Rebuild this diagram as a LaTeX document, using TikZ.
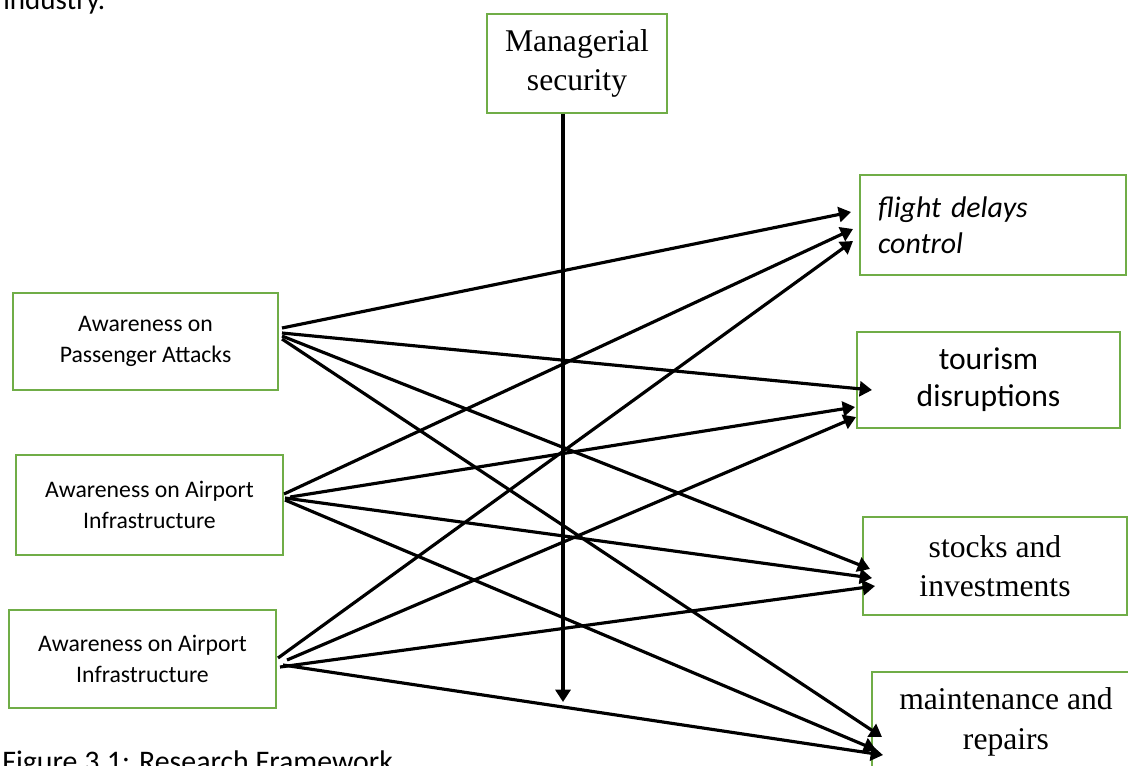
\documentclass[tikz,border=0pt]{standalone}
\usepackage{fontspec}
\setmainfont{Liberation Serif}
\newfontfamily\calibri{Carlito}
\usetikzlibrary{arrows.meta}
\definecolor{boxgreen}{RGB}{112,173,71}

\begin{document}
\begin{tikzpicture}[x=0.02cm,y=-0.02cm,
    box/.style={draw=boxgreen, line width=1.1pt, fill=white, inner sep=0pt, align=center},
    serifbox/.style={box, font=\fontsize{18}{22.5}\selectfont},
    sansbox/.style={box, font=\calibri\fontsize{18}{21}\selectfont},
    smallbox/.style={box, font=\calibri\fontsize{13.5}{17.5}\selectfont},
    pagetext/.style={anchor=base west, inner sep=0pt, font=\calibri\fontsize{17}{21}\selectfont},
    link/.style={line width=1.8pt, -{Triangle[length=7pt,width=8.5pt]}}]
    \useasboundingbox (0,0) rectangle (1128,765);
    \clip (0,0) rectangle (1128,765);

    % text of the page round the figure
    \node[pagetext, font=\calibri\fontsize{16.5}{21}\selectfont] (prev) at (3,9) {industry.};
    \node[pagetext] (cap) at (2,771) {Figure 3.1: Research Framework};

    % boxes
    \node[serifbox, minimum width=3.6cm, minimum height=1.98cm] (ms) at (577,63.5) {Managerial\\security};
    \node[sansbox, font=\calibri\itshape\fontsize{17}{20.5}\selectfont, align=left, text width=4.6cm, inner xsep=0.36cm, minimum height=2cm] (fdc) at (993,225) {flight delays\\control};
    \node[sansbox, minimum width=5.26cm, minimum height=1.92cm] (td) at (988.5,380) {tourism\\disruptions};
    \node[serifbox, minimum width=5.28cm, minimum height=1.96cm] (si) at (995,566) {stocks and\\investments};
    \node[serifbox, minimum width=5.36cm, minimum height=2cm] (mr) at (1006,722) {maintenance and\\repairs};
    \node[smallbox, minimum width=5.3cm, minimum height=1.94cm] (pa) at (145.5,341.5) {Awareness on\\Passenger Attacks};
    \node[smallbox, minimum width=5.34cm, minimum height=2cm] (aia) at (149.5,505) {Awareness on Airport\\Infrastructure};
    \node[smallbox, minimum width=5.34cm, minimum height=1.96cm] (aib) at (142.5,659) {Awareness on Airport\\Infrastructure};

    % ends of the arrows
    \coordinate (pa1) at (282,328);
    \coordinate (pa2) at (282,333);
    \coordinate (pa3) at (282,336);
    \coordinate (pa4) at (282,339);
    \coordinate (aia1) at (284,494);
    \coordinate (aia2) at (290,497);
    \coordinate (aia3) at (285,498);
    \coordinate (aia4) at (285,500);
    \coordinate (aib1) at (278,658);
    \coordinate (aib2) at (287,660);
    \coordinate (aib3) at (280,667);
    \coordinate (aib4) at (283,665);

    \coordinate (fdc1) at (851,212);
    \coordinate (fdc2) at (853,229);
    \coordinate (fdc3) at (853,241);
    \coordinate (td1) at (872,390);
    \coordinate (td2) at (855,407);
    \coordinate (td3) at (856,417);
    \coordinate (si1) at (870,569);
    \coordinate (si2) at (872,578);
    \coordinate (si3) at (875,586);
    \coordinate (mr1) at (882,737);
    \coordinate (mr2) at (876,750);
    \coordinate (mr3) at (883,755);
    \coordinate (msend) at (563,702);

    \draw[link] (msend |- ms.south) -- (msend);

    \foreach \s/\t in {pa1/fdc1, pa2/td1, pa3/si1, pa4/mr1,
                       aia1/fdc2, aia2/td2, aia3/si2, aia4/mr2,
                       aib1/fdc3, aib2/td3, aib3/si3, aib4/mr3}
        \draw[link] (\s) -- (\t);
\end{tikzpicture}
\end{document}
